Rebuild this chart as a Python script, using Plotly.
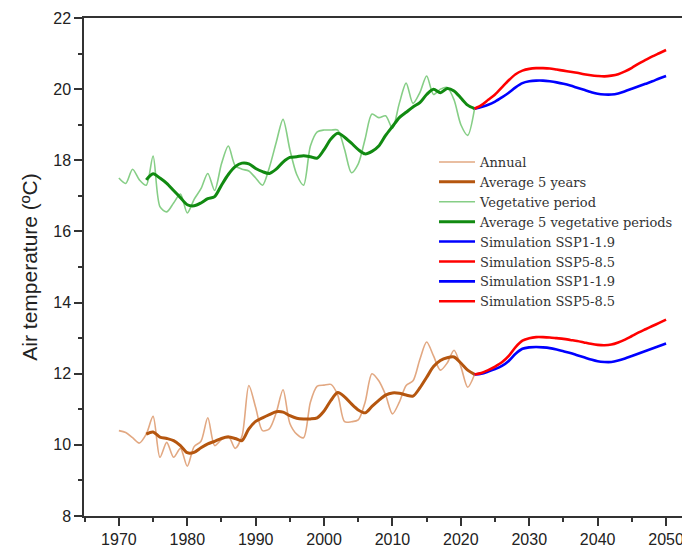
import plotly.graph_objects as go

# ---------------- data ----------------
years_obs = list(range(1970, 2023))
annual = [10.40, 10.35, 10.20, 10.05, 10.30, 10.80, 9.65, 10.07, 9.65, 9.90,
          9.40, 9.95, 10.10, 10.76, 9.98, 10.15, 10.25, 9.90, 10.25, 11.67,
          11.05, 10.40, 10.45, 10.90, 11.55, 10.60, 10.30, 10.20, 11.20, 11.65,
          11.68, 11.70, 11.40, 10.65, 10.65, 10.70, 11.20, 12.00, 11.80, 11.40,
          10.87, 11.20, 11.67, 11.80, 12.40, 12.89, 12.50, 12.10, 12.30, 12.66,
          12.20, 11.62, 11.98]
vegetative = [17.50, 17.35, 17.75, 17.45, 17.30, 18.12, 16.70, 16.55, 16.80, 17.05,
              16.52, 16.90, 17.20, 17.63, 17.15, 17.90, 18.40, 17.85, 17.75, 17.70,
              17.50, 17.30, 17.80, 18.50, 19.15, 18.30, 17.60, 17.30, 18.40, 18.80,
              18.85, 18.85, 18.85, 18.30, 17.65, 17.90, 18.60, 19.30, 19.20, 19.25,
              18.90, 19.60, 20.17, 19.60, 19.90, 20.37, 19.85, 20.00, 20.05, 19.70,
              19.00, 18.70, 19.45]

years_avg = list(range(1974, 2023))
avg5_annual = [10.30, 10.36, 10.22, 10.18, 10.12, 9.98, 9.78, 9.79, 9.92, 10.03,
               10.10, 10.18, 10.22, 10.18, 10.12, 10.45, 10.66, 10.76, 10.85, 10.93,
               10.92, 10.82, 10.75, 10.73, 10.73, 10.76, 10.95, 11.25, 11.47, 11.35,
               11.15, 10.98, 10.90, 11.08, 11.25, 11.40, 11.46, 11.45, 11.40, 11.37,
               11.60, 11.90, 12.20, 12.37, 12.45, 12.47, 12.30, 12.10, 11.98]
avg5_veg = [17.45, 17.62, 17.50, 17.35, 17.15, 16.95, 16.75, 16.72, 16.80, 16.92,
            16.98, 17.30, 17.60, 17.82, 17.92, 17.90, 17.77, 17.68, 17.63, 17.75,
            17.95, 18.08, 18.10, 18.13, 18.10, 18.06, 18.30, 18.60, 18.76, 18.65,
            18.48, 18.30, 18.18, 18.25, 18.40, 18.70, 18.95, 19.20, 19.35, 19.50,
            19.62, 19.85, 20.00, 19.90, 20.02, 19.95, 19.75, 19.55, 19.45]

years_sim = list(range(2022, 2051))
veg_ssp119 = [19.45, 19.50, 19.56, 19.65, 19.77, 19.90, 20.05, 20.17, 20.22, 20.24,
              20.24, 20.22, 20.19, 20.15, 20.10, 20.04, 19.98, 19.92, 19.87, 19.85,
              19.85, 19.88, 19.94, 20.01, 20.08, 20.15, 20.22, 20.30, 20.37]
veg_ssp585 = [19.45, 19.55, 19.70, 19.85, 20.05, 20.25, 20.42, 20.52, 20.57, 20.59,
              20.59, 20.58, 20.55, 20.52, 20.49, 20.46, 20.42, 20.39, 20.37, 20.36,
              20.38, 20.42, 20.50, 20.60, 20.72, 20.82, 20.92, 21.01, 21.10]
ann_ssp119 = [11.98, 12.00, 12.06, 12.13, 12.22, 12.36, 12.56, 12.70, 12.74, 12.75,
              12.74, 12.72, 12.68, 12.63, 12.58, 12.52, 12.46, 12.40, 12.35, 12.33,
              12.33, 12.37, 12.43, 12.50, 12.57, 12.64, 12.71, 12.78, 12.85]
ann_ssp585 = [11.98, 12.02, 12.10, 12.20, 12.32, 12.50, 12.75, 12.93, 13.00, 13.03,
              13.03, 13.02, 13.00, 12.98, 12.95, 12.92, 12.88, 12.84, 12.81, 12.80,
              12.82, 12.88, 12.96, 13.06, 13.16, 13.25, 13.34, 13.43, 13.52]

x_ticks = list(range(1970, 2051, 10))
y_ticks = list(range(8, 23, 2))

# ---------------- figure ----------------
C_ANN = "#E2A882"
C_AVG = "#B5560F"
C_VEG = "#86CE86"
C_VAVG = "#118A11"
C_BLUE = "#0000FF"
C_RED = "#FF0000"

fig = go.Figure()
def add(x, y, name, color, width):
    fig.add_trace(go.Scatter(x=x, y=y, name=name, mode="lines",
                             line=dict(color=color, width=width, shape="spline", smoothing=0.8)))

add(years_obs, annual, "Annual", C_ANN, 1.6)
add(years_avg, avg5_annual, "Average 5 years", C_AVG, 3)
add(years_obs, vegetative, "Vegetative period", C_VEG, 1.6)
add(years_avg, avg5_veg, "Average 5 vegetative periods", C_VAVG, 3)
add(years_sim, ann_ssp119, "Simulation SSP1-1.9", C_BLUE, 2.6)
add(years_sim, ann_ssp585, "Simulation SSP5-8.5", C_RED, 2.6)
add(years_sim, veg_ssp119, "Simulation SSP1-1.9", C_BLUE, 2.6)
add(years_sim, veg_ssp585, "Simulation SSP5-8.5", C_RED, 2.6)

axis_font = dict(family="Liberation Sans, Arial, sans-serif", size=16, color="#222")
fig.update_layout(
    width=682, height=544,
    margin=dict(l=76, r=0, t=10, b=36, autoexpand=False),
    plot_bgcolor="white", paper_bgcolor="white",
    showlegend=True,
    legend=dict(x=0.5776, y=0.741, xanchor="left", yanchor="top",
                bgcolor="rgba(0,0,0,0)", borderwidth=0, itemwidth=36,
                font=dict(family="DejaVu Serif, serif", size=13, color="#333"),
                tracegroupgap=0),
    xaxis=dict(range=[1964.9, 2053.5], tickmode="array", tickvals=x_ticks,
               ticktext=[str(v) for v in x_ticks], automargin=False,
               ticks="outside", ticklen=8, tickwidth=1.5, tickcolor="#333",
               showline=True, linecolor="#333", linewidth=1.5, mirror=True,
               showgrid=False, zeroline=False, tickfont=axis_font,
               minor=dict(tickvals=list(range(1965, 2051, 5)), ticks="outside",
                          ticklen=4, tickwidth=1.5, tickcolor="#333")),
    yaxis=dict(range=[8, 22], tickmode="array", tickvals=y_ticks,
               ticktext=[str(v) for v in y_ticks], automargin=False,
               ticks="outside", ticklen=8, tickwidth=1.5, tickcolor="#333",
               showline=True, linecolor="#333", linewidth=1.5,
               showgrid=False, zeroline=False, tickfont=axis_font,
               title=dict(text="Air temperature (ºC)", standoff=10,
                          font=dict(family="Liberation Sans, Arial, sans-serif", size=21, color="#222")),
               minor=dict(tickvals=list(range(9, 22, 2)), ticks="outside",
                          ticklen=4, tickwidth=1.5, tickcolor="#333")),
)

fig.write_html("out.html")
